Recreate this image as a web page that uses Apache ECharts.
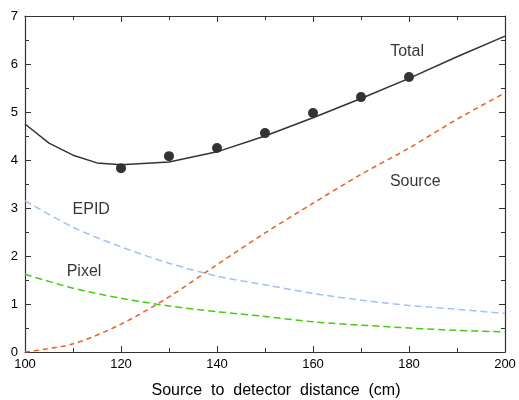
<!DOCTYPE html>
<html><head><meta charset="utf-8">
<script src="https://cdn.jsdelivr.net/npm/echarts@6/dist/echarts.min.js"></script>
<style>html,body{margin:0;padding:0;background:#fff}#c{width:519px;height:400px}</style>
</head><body><div id="c"></div>
<script>
const distances = [100,105,110,115,120,130,140,150,160,170,180,190,200];
const totalLine = [4.75,4.35,4.1,3.94,3.9,3.96,4.17,4.5,4.88,5.28,5.7,6.15,6.58];
const curveX = [100,110,120,130,140,150,160,170,180,190,200];
const sourceVals = [0,0.17,0.58,1.15,1.82,2.48,3.1,3.7,4.25,4.85,5.4];
const epidVals = [3.15,2.6,2.19,1.85,1.58,1.4,1.22,1.08,0.97,0.89,0.8];
const pixelVals = [1.62,1.33,1.12,0.96,0.84,0.74,0.63,0.56,0.5,0.45,0.42];
const measX = [120,130,140,150,160,170,180];
const measVals = [3.83,4.08,4.25,4.56,4.98,5.31,5.73];
const labels = [
  {name:'Total', x:179.6, y:6.25},
  {name:'Source', x:181.3, y:3.56},
  {name:'EPID', x:113.8, y:2.96},
  {name:'Pixel', x:112.3, y:1.67}
];

const pair = (xs, ys) => xs.map((x,i)=>[x, ys[i]]);
const font = 'Liberation Sans, Arial, sans-serif';
const axisCol = '#333';

const chart = echarts.init(document.getElementById('c'));
const baseX = {
  type:'value', min:100, max:200, interval:20,
  axisLine:{show:true, onZero:false, lineStyle:{color:axisCol, width:1.2}},
  axisTick:{inside:true, length:6, lineStyle:{color:axisCol}},
  minorTick:{show:true, splitNumber:2, length:4, lineStyle:{color:axisCol}},
  splitLine:{show:false}
};
const baseY = {
  type:'value', min:0, max:7, interval:1,
  axisLine:{show:true, onZero:false, lineStyle:{color:axisCol, width:1.2}},
  axisTick:{inside:true, length:6, lineStyle:{color:axisCol}},
  minorTick:{show:true, splitNumber:2, length:4, lineStyle:{color:axisCol}},
  splitLine:{show:false}
};
chart.setOption({
  animation:false,
  backgroundColor:'#fff',
  grid:{left:25, right:14, top:16, bottom:48, containLabel:false, outerBoundsMode:'none'},
  xAxis:[
    Object.assign({}, baseX, {position:'bottom',
      name:'Source  to  detector  distance  (cm)', nameLocation:'middle', nameGap:31,
      nameTextStyle:{fontFamily:font, fontSize:16, color:'#000', padding:[0,0,0,22]},
      axisLabel:{fontFamily:font, fontSize:13, color:'#000', margin:6}}),
    Object.assign({}, baseX, {position:'top', axisLabel:{show:false}})
  ],
  yAxis:[
    Object.assign({}, baseY, {position:'left',
      axisLabel:{fontFamily:font, fontSize:13, color:'#000', margin:7}}),
    Object.assign({}, baseY, {position:'right', axisLabel:{show:false}})
  ],
  series:[
    {type:'line', data:pair(curveX, sourceVals), symbol:'none', smooth:0.3,
     lineStyle:{color:'#ff5a1e', width:1.5, type:[5,4]}},
    {type:'line', data:pair(curveX, epidVals), symbol:'none', smooth:0.3,
     lineStyle:{color:'#a3c0f5', width:1.5, type:[7,4]}},
    {type:'line', data:pair(curveX, pixelVals), symbol:'none', smooth:0.3,
     lineStyle:{color:'#44cc11', width:1.5, type:[7,4]}},
    {type:'line', data:pair(distances, totalLine), symbol:'none',
     lineStyle:{color:'#333', width:1.5}},
    {type:'scatter', data:pair(measX, measVals), symbol:'circle', symbolSize:10,
     itemStyle:{color:'#000'}},
    {type:'scatter', data:labels.map(l=>({value:[l.x,l.y], name:l.name})),
     symbolSize:0, silent:true,
     label:{show:true, position:'inside', formatter:p=>p.name,
       fontFamily:font, fontSize:16, color:'#000'}}
  ]
});
</script></body></html>
